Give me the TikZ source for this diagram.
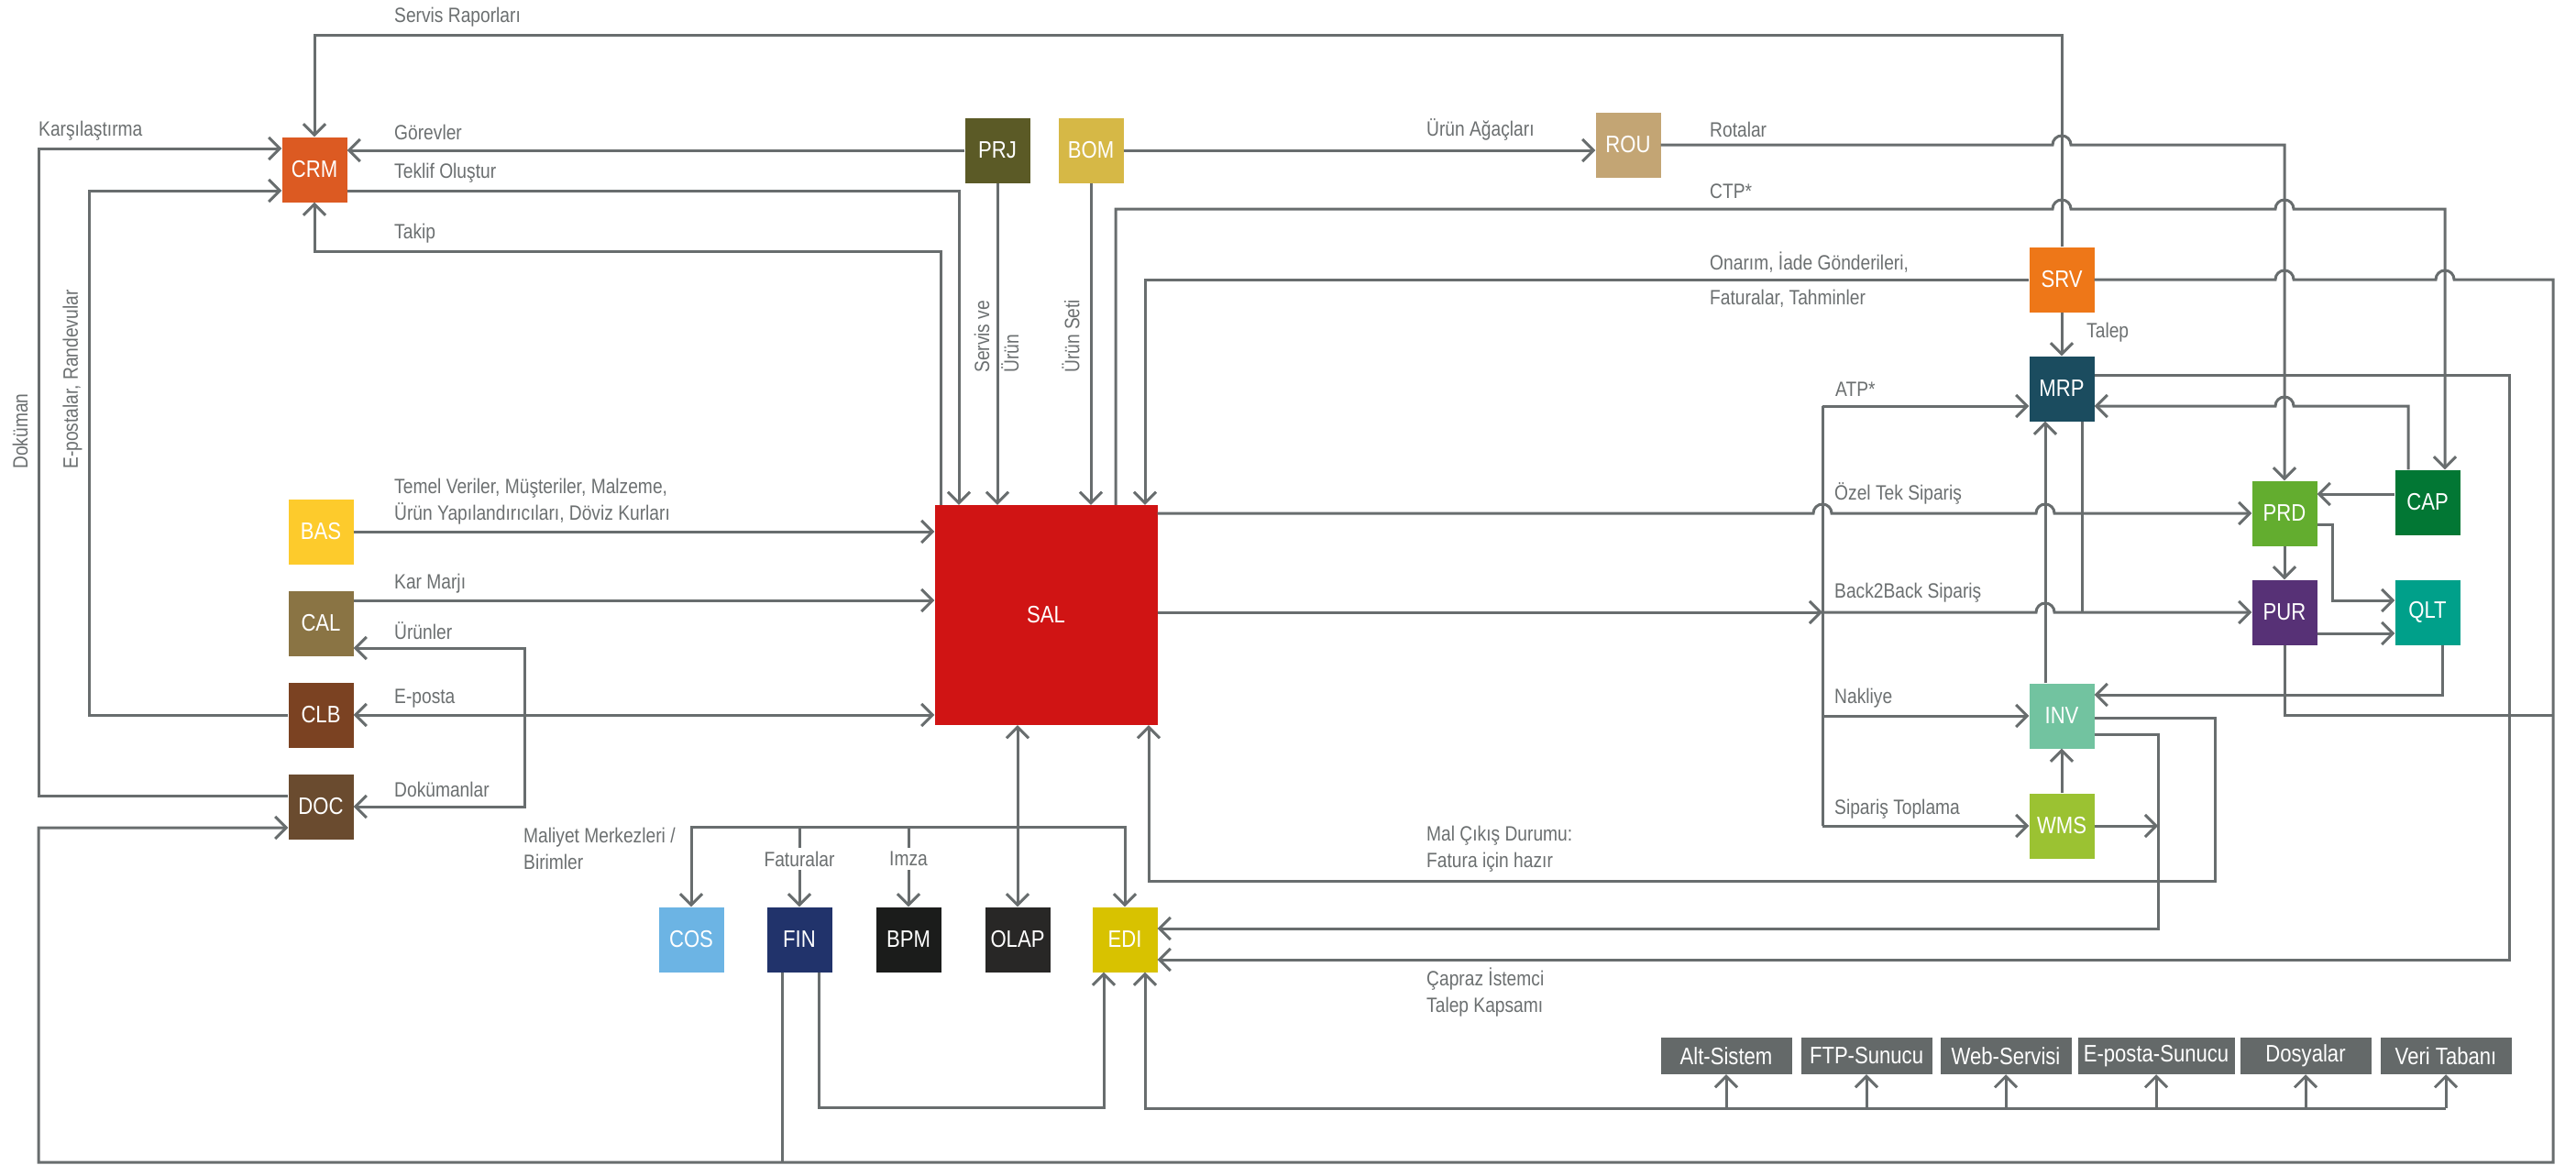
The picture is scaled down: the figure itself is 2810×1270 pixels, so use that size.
\documentclass[tikz,border=0pt]{standalone}
\usepackage{fontspec}
\setmainfont[FakeStretch=0.85]{Liberation Sans}
\usetikzlibrary{arrows.meta}
\definecolor{linegray}{HTML}{686D6E}
\definecolor{txtgray}{HTML}{6B6F70}
\definecolor{subgray}{HTML}{646969}
\definecolor{crmc}{HTML}{DC5A22}
\definecolor{prjc}{HTML}{5B5A26}
\definecolor{bomc}{HTML}{D6B846}
\definecolor{rouc}{HTML}{C3A574}
\definecolor{srvc}{HTML}{EE7718}
\definecolor{mrpc}{HTML}{1B4C5F}
\definecolor{prdc}{HTML}{63AD2F}
\definecolor{capc}{HTML}{027734}
\definecolor{purc}{HTML}{573176}
\definecolor{qltc}{HTML}{00A08A}
\definecolor{invc}{HTML}{72C3A0}
\definecolor{wmsc}{HTML}{9BC232}
\definecolor{basc}{HTML}{FDCB2C}
\definecolor{calc}{HTML}{8A7444}
\definecolor{clbc}{HTML}{7B4222}
\definecolor{docc}{HTML}{6A4B2F}
\definecolor{salc}{HTML}{D01414}
\definecolor{cosc}{HTML}{6CB4E4}
\definecolor{finc}{HTML}{21336B}
\definecolor{bpmc}{HTML}{1B1C1B}
\definecolor{olapc}{HTML}{282726}
\definecolor{edic}{HTML}{D8C200}
\begin{document}
\begin{tikzpicture}[x=1pt, y=1pt, >={Straight Barb[length=12pt,width=24pt]},
    flow/.style={draw=linegray, line width=3pt},
    sysbox/.style={minimum width=71pt, minimum height=71pt, inner sep=0pt, text=white, font=\fontsize{26}{30}\selectfont},
    subbox/.style={sysbox, fill=subgray, minimum width=143pt, minimum height=40pt},
    lbl/.style={text=txtgray, font=\fontsize{22.6}{29}\selectfont, inner sep=0pt, anchor=west, align=left},
    vlbl/.style={lbl, rotate=90, font=\fontsize{22.6}{32}\selectfont},
    hopr/.style 2 args={insert path={-- ({#1-10},#2) arc[start angle=180, end angle=0, radius=10pt]}},
    hopl/.style 2 args={insert path={-- ({#1+10},#2) arc[start angle=0, end angle=180, radius=10pt]}}]
  \useasboundingbox (0,0) rectangle (2810,-1270);
  % systems
  \node[sysbox, fill=crmc] (crm) at (343,-185) {CRM};
  \node[sysbox, fill=prjc] (prj) at (1088,-164) {PRJ};
  \node[sysbox, fill=bomc] (bom) at (1190,-164) {BOM};
  \node[sysbox, fill=rouc] (rou) at (1776,-158) {ROU};
  \node[sysbox, fill=srvc] (srv) at (2249,-305) {SRV};
  \node[sysbox, fill=mrpc] (mrp) at (2249,-424) {MRP};
  \node[sysbox, fill=prdc] (prd) at (2492,-560) {PRD};
  \node[sysbox, fill=capc] (cap) at (2648,-548) {CAP};
  \node[sysbox, fill=purc] (pur) at (2492,-668) {PUR};
  \node[sysbox, fill=qltc] (qlt) at (2648,-668) {QLT};
  \node[sysbox, fill=invc] (inv) at (2249,-781) {INV};
  \node[sysbox, fill=wmsc] (wms) at (2249,-901) {WMS};
  \node[sysbox, fill=basc] (bas) at (350,-580) {BAS};
  \node[sysbox, fill=calc] (cal) at (350,-680) {CAL};
  \node[sysbox, fill=clbc] (clb) at (350,-780) {CLB};
  \node[sysbox, fill=docc] (doc) at (350,-880) {DOC};
  \node[sysbox, fill=salc, minimum width=243pt, minimum height=240pt] (sal) at (1141,-671) {SAL};
  \node[sysbox, fill=cosc] (cos) at (754,-1025) {COS};
  \node[sysbox, fill=finc] (fin) at (872,-1025) {FIN};
  \node[sysbox, fill=bpmc] (bpm) at (991,-1025) {BPM};
  \node[sysbox, fill=olapc] (olap) at (1110,-1025) {OLAP};
  \node[sysbox, fill=edic] (edi) at (1227,-1025) {EDI};
  % external sources
  \node[subbox] (alt) at (1883,-1152) {Alt-Sistem};
  \node[subbox] (ftp) at (2036,-1152) {FTP-Sunucu};
  \node[subbox] (web) at (2188,-1152) {Web-Servisi};
  \node[subbox, minimum width=171pt] (mail) at (2352,-1152) {E-posta-Sunucu};
  \node[subbox] (dosya) at (2515,-1152) {Dosyalar};
  \node[subbox] (veri) at (2668,-1152) {Veri Tabanı};
  % junctions
  \coordinate (atp) at (1988,-443);
  \coordinate (b2b) at (1988,-668);
  \coordinate (nak) at (1988,-781);
  \coordinate (sip) at (1988,-901);
  \coordinate (bus) at (1110,-902);
  \coordinate (mix) at (572,-780);
  \coordinate (wmsin) at (2354,-901);
  \coordinate (sub) at (1249,-1209);

  % CRM
  \draw[flow,->] (srv.north) -- (2249,-38) -- (343,-38) -- (crm.north);
  \node[lbl] at (430,-19) {Servis Raporları};
  \draw[flow,->] ([yshift=12pt]doc.west) -- (42,-868) -- (42,-162) -- ([yshift=23pt]crm.west);
  \node[lbl] at (42,-143) {Karşılaştırma};
  \node[vlbl] at (22,-512) {Doküman};
  \draw[flow,->] (clb.west) -- (97,-780) -- (97,-208) -- ([yshift=-23pt]crm.west);
  \node[vlbl] at (79,-512) {E-postalar, Randevular};
  \draw[flow,->] (prj.west) -- (prj.west -| crm.east);
  \node[lbl] at (430,-144) {Görevler};
  \draw[flow,->] ([yshift=-23pt]crm.east) -- (1046,-208) -- ([xshift=-95pt]sal.north);
  \node[lbl] at (430,-189) {Teklif Oluştur};
  \draw[flow,->] ([xshift=-115pt]sal.north) -- (1026,-274) -- (343,-274) -- (crm.south);
  \node[lbl] at (430,-255) {Takip};

  % PRJ, BOM, ROU
  \draw[flow,->] (prj.south) -- (prj.south |- sal.north);
  \node[vlbl] at (1087,-407) {Servis ve\\Ürün};
  \draw[flow,->] (bom.south) -- (bom.south |- sal.north);
  \node[vlbl] at (1168,-407) {Ürün Seti};
  \draw[flow,->] (bom.east) -- (bom.east -| rou.west);
  \node[lbl] at (1556,-141) {Ürün Ağaçları};
  \draw[flow,->] (rou.east) [hopr={2249}{-158}] -- (2492,-158) -- (prd.north);
  \node[lbl] at (1865,-141) {Rotalar};
  \draw[flow,->] ([xshift=76pt]sal.north) -- (1217,-228) [hopr={2249}{-228}] [hopr={2492}{-228}] -- (2667,-228) -- ([xshift=19pt]cap.north);
  \node[lbl] at (1865,-209) {CTP*};

  % SRV
  \draw[flow,->] (srv.west) -- (1249,-305) -- ([xshift=108pt]sal.north);
  \node[lbl] at (1865,-305) {Onarım, İade Gönderileri,\\[9pt]Faturalar, Tahminler};
  \draw[flow,->] (srv.east) [hopr={2492}{-305}] [hopr={2667}{-305}] -- (2785,-305) -- (2785,-1268) -- (42,-1268) -- (42,-903) -- ([yshift=-23pt]doc.west);
  \draw[flow,->] (srv.south) -- (mrp.north);
  \node[lbl] at (2276,-363) {Talep};

  % SAL to the right
  \draw[flow,->] ([yshift=111pt]sal.east) [hopr={1988}{-560}] [hopr={2231}{-560}] -- (prd.west);
  \node[lbl] at (2001,-538) {Özel Tek Sipariş};
  \draw[flow,->] ([yshift=3pt]sal.east) -- (b2b);
  \node[lbl] at (2001,-647) {Back2Back Sipariş};
  \draw[flow] (atp) -- (sip);
  \draw[flow,->] (atp) -- (atp -| mrp.west);
  \node[lbl] at (2002,-425) {ATP*};
  \draw[flow,->] (b2b) [hopr={2231}{-668}] -- (pur.west);
  \draw[flow,->] (nak) -- (inv.west);
  \node[lbl] at (2001,-762) {Nakliye};
  \draw[flow,->] (sip) -- (wms.west);
  \node[lbl] at (2001,-883) {Sipariş Toplama};

  % MRP
  \draw[flow,->] ([yshift=15pt]mrp.east) -- (2737,-409) -- (2737,-1047) -- ([yshift=-22pt]edi.east);
  \draw[flow,->] ([xshift=-21pt]cap.north) -- (2627,-443) [hopl={2492}{-443}] -- ([yshift=-19pt]mrp.east);
  \draw[flow,->] ([xshift=-18pt]inv.north) -- ([xshift=-18pt]mrp.south);
  \draw[flow] ([xshift=22pt]mrp.south) -- ([xshift=22pt]mrp.south |- b2b);

  % PRD, CAP, PUR, QLT
  \draw[flow,->] ([yshift=9pt]cap.west) -- ([yshift=9pt]cap.west -| prd.east);
  \draw[flow,->] (prd.south) -- (pur.north);
  \draw[flow,->] ([yshift=-12pt]prd.east) -- (2544,-572) -- (2544,-655) -- ([yshift=13pt]qlt.west);
  \draw[flow,->] ([yshift=-23pt]pur.east) -- ([yshift=-23pt]pur.east -| qlt.west);
  \draw[flow,->] ([xshift=16pt]qlt.south) -- (2664,-758) -- ([yshift=23pt]inv.east);
  \draw[flow] (pur.south) -- (2492,-780) -- (2785,-780);

  % INV, WMS
  \draw[flow,->] ([yshift=-2pt]inv.east) -- (2416,-783) -- (2416,-961) -- (1253,-961) -- ([xshift=112pt]sal.south);
  \node[lbl] at (1556,-926) {Mal Çıkış Durumu:\\Fatura için hazır};
  \draw[flow,->] ([yshift=-20pt]inv.east) -- (2354,-801) -- (2354,-1013) -- ([yshift=12pt]edi.east);
  \draw[flow,->] (wms.east) -- (wmsin);
  \draw[flow,->] (wms.north) -- (inv.south);
  \node[lbl] at (1556,-1083) {Çapraz İstemci\\Talep Kapsamı};

  % bottom row
  \draw[flow,<->] ([xshift=-31pt]sal.south) -- (olap.north);
  \draw[flow,->] (bus) -| (cos.north);
  \draw[flow,->] (bus) -| (edi.north);
  \draw[flow,->] (fin.north |- bus) -- node[lbl, anchor=center, fill=white, inner sep=4pt, pos=0.4] {Faturalar} (fin.north);
  \draw[flow,->] (bpm.north |- bus) -- node[lbl, anchor=center, fill=white, inner sep=4pt, pos=0.4] {Imza} (bpm.north);
  \node[lbl] at (571,-926) {Maliyet Merkezleri /\\Birimler};
  \draw[flow,->] ([xshift=21pt]fin.south) -- (893,-1208) -- (1204,-1208) -- ([xshift=-23pt]edi.south);
  \draw[flow] ([xshift=-19pt]fin.south) -- (853,-1268);
  \draw[flow,->] (veri.south |- sub) -- (sub) -- ([xshift=22pt]edi.south);
  \foreach \s in {alt,ftp,web,mail,dosya,veri}
    \draw[flow,->] (\s.south |- sub) -- (\s.south);

  % left side
  \draw[flow,->] (bas.east) -- (bas.east -| sal.west);
  \node[lbl] at (430,-547) {Temel Veriler, Müşteriler, Malzeme,\\Ürün Yapılandırıcıları, Döviz Kurları};
  \draw[flow,->] ([yshift=25pt]cal.east) -- ([yshift=25pt]cal.east -| sal.west);
  \node[lbl] at (430,-637) {Kar Marjı};
  \draw[flow,<->] (clb.east) -- (clb.east -| sal.west);
  \node[lbl] at (430,-762) {E-posta};
  \draw[flow,->] (mix) -- (572,-707) -- ([yshift=-27pt]cal.east);
  \node[lbl] at (430,-688) {Ürünler};
  \draw[flow,->] (mix) -- (572,-880) -- (doc.east);
  \node[lbl] at (430,-861) {Dokümanlar};
\end{tikzpicture}
\end{document}
